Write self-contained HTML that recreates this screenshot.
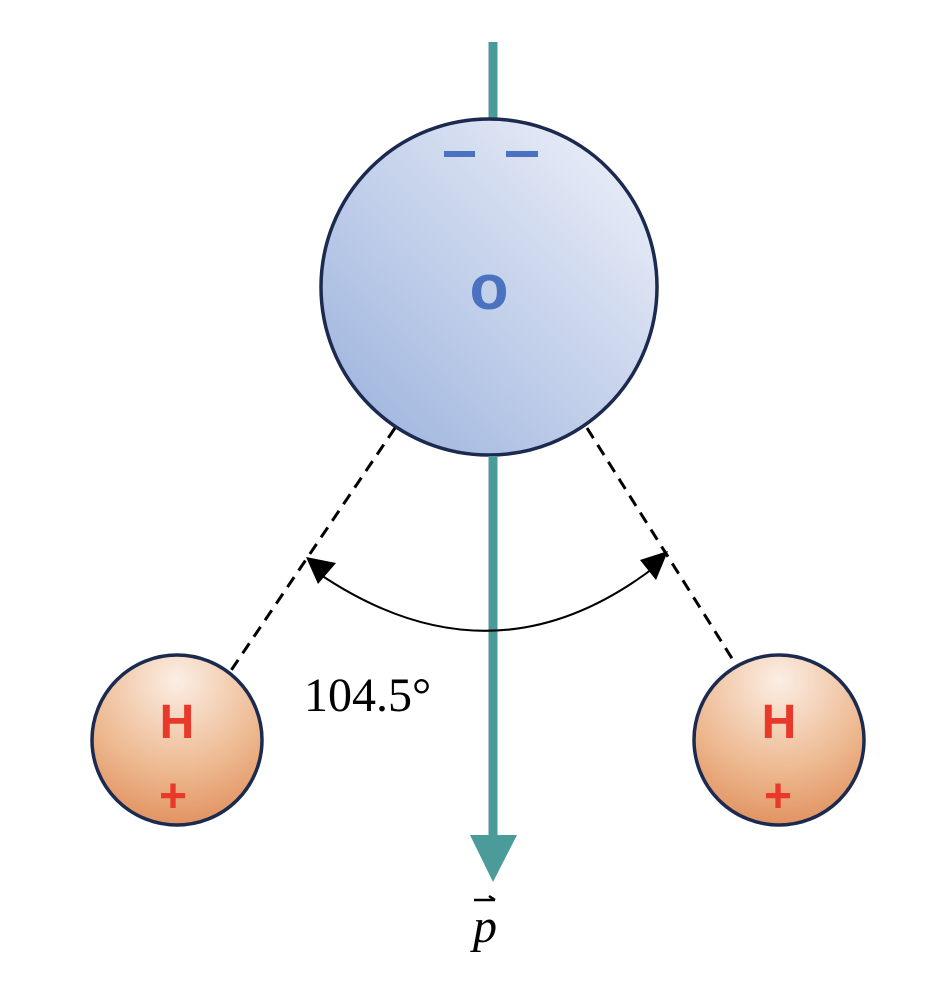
<!DOCTYPE html>
<html><head><meta charset="utf-8"><style>html,body{margin:0;padding:0;background:#fff;}</style></head>
<body>
<svg width="952" height="998" viewBox="0 0 952 998" xmlns="http://www.w3.org/2000/svg">
<defs>
<linearGradient id="og" x1="1" y1="0" x2="0" y2="1">
<stop offset="0" stop-color="#f1f3fa"/><stop offset="1" stop-color="#98b0dc"/>
</linearGradient>
<radialGradient id="hg" cx="0.5" cy="0.15" r="0.9">
<stop offset="0" stop-color="#fbeee4"/><stop offset="0.6" stop-color="#edb88f"/><stop offset="1" stop-color="#e08d5a"/>
</radialGradient>
</defs>
<line x1="493" y1="42" x2="493" y2="840" stroke="#4a9b9a" stroke-width="9"/>
<polygon points="470,835 517,835 493,882" fill="#4a9b9a"/>
<circle cx="489" cy="287" r="168" fill="url(#og)" stroke="#1c2a50" stroke-width="3.5"/>
<line x1="493" y1="456" x2="493" y2="835" stroke="#4a9b9a" stroke-width="9"/>
<rect x="444" y="151" width="31" height="6" fill="#4a72c0"/>
<rect x="506" y="151" width="32" height="6" fill="#4a72c0"/>
<text x="489" y="309" font-family="Liberation Sans, sans-serif" font-weight="bold" font-size="64" fill="#4a72c0" text-anchor="middle">o</text>
<line x1="395" y1="428" x2="230" y2="672" stroke="#000" stroke-width="3" stroke-dasharray="12,8"/>
<line x1="587" y1="428" x2="733" y2="660" stroke="#000" stroke-width="3" stroke-dasharray="12,8"/>
<path d="M318,573 Q493,692 656,566" fill="none" stroke="#000" stroke-width="2"/>
<polygon points="306,557 336,563 318,584" fill="#000"/>
<polygon points="668,551 656,580 640,560" fill="#000"/>
<text x="304" y="711" font-family="Liberation Serif, serif" font-size="48" fill="#000">104.5°</text>
<circle cx="177" cy="740" r="85" fill="url(#hg)" stroke="#1c2a50" stroke-width="3.5"/>
<circle cx="779" cy="740" r="85" fill="url(#hg)" stroke="#1c2a50" stroke-width="3.5"/>
<text x="177" y="738" font-family="Liberation Sans, sans-serif" font-weight="bold" font-size="48" fill="#e8392a" text-anchor="middle">H</text>
<text x="779" y="738" font-family="Liberation Sans, sans-serif" font-weight="bold" font-size="48" fill="#e8392a" text-anchor="middle">H</text>
<text x="173" y="812" font-family="Liberation Sans, sans-serif" font-weight="bold" font-size="48" fill="#e8392a" text-anchor="middle">+</text>
<text x="778" y="812" font-family="Liberation Sans, sans-serif" font-weight="bold" font-size="48" fill="#e8392a" text-anchor="middle">+</text>
<text x="485" y="942" font-family="Liberation Serif, serif" font-style="italic" font-size="48" fill="#000" text-anchor="middle">p</text>
<line x1="474" y1="900" x2="495" y2="900" stroke="#000" stroke-width="2.5"/>
<line x1="489" y1="896" x2="495" y2="900" stroke="#000" stroke-width="2.5"/>
</svg>
</body></html>
